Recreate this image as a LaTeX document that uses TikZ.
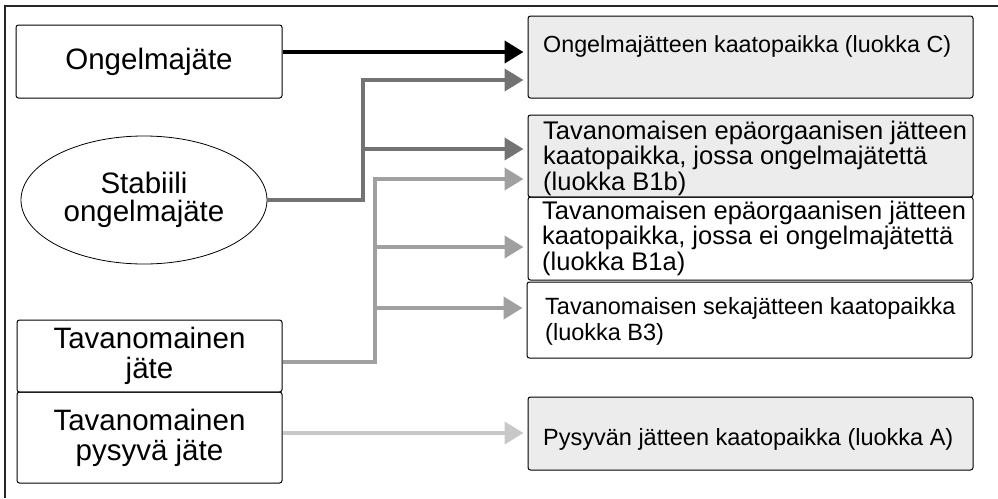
\documentclass[tikz,border=0pt]{standalone}
\usepackage{fontspec}
\setmainfont{Liberation Sans}
\usetikzlibrary{shapes.geometric,arrows.meta}
\definecolor{dkgray}{RGB}{115,115,115}
\definecolor{mdgray}{RGB}{160,160,160}
\definecolor{ltgray}{RGB}{200,200,200}
\definecolor{boxfill}{RGB}{236,236,236}
\begin{document}
\begin{tikzpicture}[x=1pt,y=-1pt,
  box/.style={draw=black,line width=1pt,rounded corners=2.5pt,inner sep=0pt},
  graybox/.style={box,fill=boxfill},
  lefttext/.style={font=\fontsize{29.5}{30}\selectfont,align=center},
  righttext/.style={font=\fontsize{23.3}{26}\selectfont,align=left,inner sep=0pt,anchor=base west},
  bigrighttext/.style={righttext,font=\fontsize{25.5}{25.5}\selectfont},
  conn/.style={line width=4pt,-{Triangle[length=19pt,width=22pt]},shorten >=4pt},
]
\useasboundingbox (0,0) rectangle (998,498);
% frame
\draw[line width=1.2pt,black!85] (5,498) -- (5,6) -- (998,6);

% left nodes
\node[box,minimum width=266pt,minimum height=73pt,lefttext] (ong) at (149,61.5) {Ongelmajäte};
\node[draw,ellipse,line width=0.8pt,minimum width=246pt,minimum height=128pt,inner sep=0pt,lefttext,font=\fontsize{29.5}{28}\selectfont] (stab) at (144,200) {Stabiili\\ongelmajäte};
\node[box,minimum width=265pt,minimum height=72pt,lefttext] (tav) at (149.5,356) {Tavanomainen\\jäte};
\node[box,minimum width=265pt,minimum height=91pt,lefttext] (pys) at (149.5,437.5) {Tavanomainen\\pysyvä jäte};

% right boxes
\node[graybox,minimum width=445pt,minimum height=82pt] (C) at (750.5,57) {};
\node[graybox,minimum width=445pt,minimum height=82pt] (B1b) at (750.5,156) {};
\node[box,minimum width=445pt,minimum height=83pt] (B1a) at (750.5,238.5) {};
\node[box,minimum width=445pt,minimum height=76pt] (B3) at (749.5,320) {};
\node[graybox,minimum width=445pt,minimum height=73pt] (A) at (750.5,433.5) {};

% right texts (anchor = baseline of the last line)
\node[righttext] (Ct) at (543,52) {Ongelmajätteen kaatopaikka (luokka C)};
\node[bigrighttext] (B1bt) at (543,190) {Tavanomaisen epäorgaanisen jätteen\\kaatopaikka, jossa ongelmajätettä\\(luokka B1b)};
\node[bigrighttext] (B1at) at (542,270) {Tavanomaisen epäorgaanisen jätteen\\kaatopaikka, jossa ei ongelmajätettä\\(luokka B1a)};
\node[righttext,font=\fontsize{23.5}{25.5}\selectfont] (B3t) at (545,340) {Tavanomaisen sekajätteen kaatopaikka\\(luokka B3)};
\node[righttext,font=\fontsize{23.5}{26}\selectfont] (At) at (543,445) {Pysyvän jätteen kaatopaikka (luokka A)};

% level coordinates
\coordinate (yk) at (0,52);
\coordinate (jd) at (363,80);
\coordinate (yd2) at (0,149);
\coordinate (ym0) at (0,362);
\coordinate (jm) at (375,179);
\coordinate (ym2) at (0,247);
\coordinate (ym3) at (0,308);
\coordinate (yl) at (0,433);

% connectors
\draw[conn,black] (ong.east |- yk) -- (C.west |- yk);
\draw[conn,dkgray] (stab.east) -| (jd) -- (C.west |- jd);
\draw[conn,dkgray] (jd |- yd2) -- (B1b.west |- yd2);
\draw[conn,mdgray] (tav.east |- ym0) -| (jm) -- (B1b.west |- jm);
\draw[conn,mdgray] (jm |- ym2) -- (B1a.west |- ym2);
\draw[conn,mdgray] (jm |- ym3) -- (B3.west |- ym3);
\draw[conn,ltgray] (pys.east |- yl) -- (A.west |- yl);
\end{tikzpicture}
\end{document}
